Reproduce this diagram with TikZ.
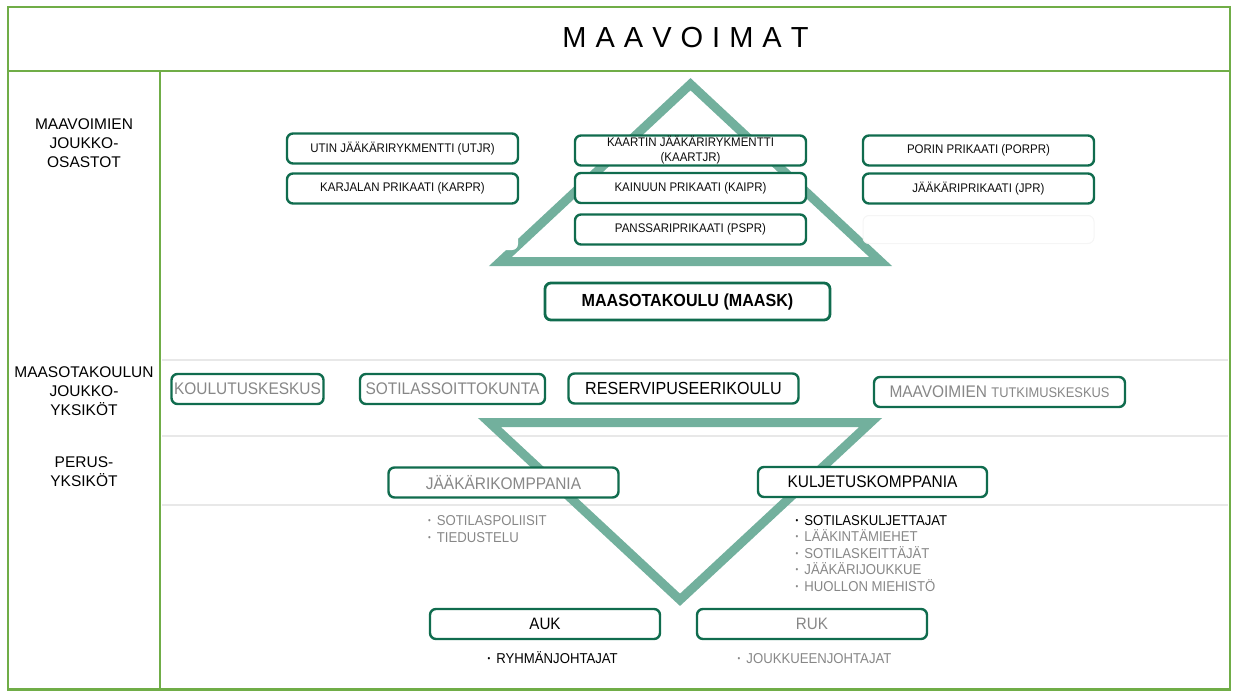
\documentclass[tikz,border=0pt]{standalone}
\usepackage{fontspec}
\setmainfont{Liberation Sans}
\newfontfamily\nf[FakeStretch=0.92]{Liberation Sans}
\definecolor{framegreen}{RGB}{112,173,71}
\definecolor{boxgreen}{RGB}{16,108,78}
\definecolor{trigreen}{RGB}{114,176,157}
\definecolor{txtgray}{RGB}{135,135,135}
\definecolor{sepgray}{RGB}{232,232,232}
\newcommand{\fs}[1]{\fontsize{#1}{#1}\selectfont}
\newcommand{\bul}{{\fontsize{8.5}{8.5}\selectfont\raisebox{2pt}{•}}\hspace{6pt}}
\begin{document}
\begin{tikzpicture}[x=1pt,y=-1pt,
  framel/.style={draw=framegreen,line width=2.8pt},
  sepl/.style={draw=sepgray,line width=2pt},
  tri/.style={draw=trigreen,line width=9pt,line join=miter},
  ubox/.style={draw=boxgreen,line width=2.4pt,rounded corners=6pt,fill=white,
    inner sep=0pt,minimum height=30pt,align=center},
  ghost/.style={draw=none,fill=white,rounded corners=6pt,inner sep=0pt,minimum height=28pt,minimum width=231pt},
  toptxt/.style={font=\nf\fs{12.5},text=black!95},
  lbl/.style={font=\fs{15.5},align=center,text=black},
  item/.style={anchor=base west,inner sep=0pt,font=\nf\fs{14.3}},
]
\useasboundingbox (0,0) rectangle (1235,691);

% frame
\draw[framel] (8,7) rectangle (1230,689.5);
\draw[framel] (8,71) -- (1230,71);
\draw[framel] (160,71) -- (160,689.5);

% separators
\draw[sepl] (162,359.5) -- (1228,359.5);
\draw[sepl] (162,435.5) -- (1228,435.5);
\draw[sepl] (162,504.5) -- (1228,504.5);

% title
\node[font=\fs{29},text=black] (title) at (685.5,37.5)
  {M\hspace{9pt}A\hspace{9pt}A\hspace{9pt}V\hspace{9pt}O\hspace{9pt}I\hspace{9pt}M\hspace{9pt}A\hspace{9pt}T};

% left labels
\node[lbl] (l1) at (84,143) {MAAVOIMIEN\\[3.5pt]JOUKKO-\\[3.5pt]OSASTOT};
\node[lbl] (l2) at (84,391) {MAASOTAKOULUN\\[3.5pt]JOUKKO-\\[3.5pt]YKSIKÖT};
\node[lbl] (l3) at (84,471.5) {PERUS-\\[3.5pt]YKSIKÖT};

% triangles
\draw[tri] (500.4,261.5) -- (880.6,261.5) -- (690.5,84.2) -- cycle;
\draw[tri] (489.4,422.5) -- (870.6,422.5) -- (680,599.8) -- cycle;

% ghost boxes
\node[ghost] (g1) at (402.5,236) {};
\node[ghost,draw=black!4,line width=1pt] (g2) at (978.5,229.5) {};

% top row
\node[ubox,toptxt,minimum width=231pt] (utjr) at (402.5,148.5) {UTIN JÄÄKÄRIRYKMENTTI (UTJR)};
\node[ubox,toptxt,minimum width=231pt] (karpr) at (402.5,188.5) {KARJALAN PRIKAATI (KARPR)};
\node[ubox,toptxt,minimum width=231pt,font=\nf\fontsize{12.5}{15}\selectfont] (kaartjr) at (690.5,150.5) {KAARTIN JÄÄKÄRIRYKMENTTI\\(KAARTJR)};
\node[ubox,toptxt,minimum width=231pt] (kaipr) at (690.5,188) {KAINUUN PRIKAATI (KAIPR)};
\node[ubox,toptxt,minimum width=231pt] (pspr) at (690.5,229.5) {PANSSARIPRIKAATI (PSPR)};
\node[ubox,toptxt,minimum width=231pt] (porpr) at (978.5,150.5) {PORIN PRIKAATI (PORPR)};
\node[ubox,toptxt,minimum width=231pt] (jpr) at (978.5,188.5) {JÄÄKÄRIPRIKAATI (JPR)};

\node[ubox,line width=2.8pt,minimum width=285pt,minimum height=37pt,font=\nf\bfseries\fs{17.5}] (maask) at (687.5,301.5) {MAASOTAKOULU (MAASK)};

% row 2
\node[ubox,minimum width=152pt,font=\nf\fs{16.8},text=txtgray] (kk) at (247.5,389) {KOULUTUSKESKUS};
\node[ubox,minimum width=185pt,font=\nf\fs{16.8},text=txtgray] (sk) at (452.5,389) {SOTILASSOITTOKUNTA};
\node[ubox,minimum width=230pt,font=\nf\fs{17.5},text=black] (rpk) at (683.5,388.5) {RESERVIPUSEERIKOULU};
\node[ubox,minimum width=251pt,font=\nf\fs{16.8},text=txtgray] (mtk) at (999.5,392) {MAAVOIMIEN {\fs{14}TUTKIMUSKESKUS}};

% row 3
\node[ubox,minimum width=230pt,font=\nf\fs{16.8},text=txtgray] (jk) at (503.5,482.5) {JÄÄKÄRIKOMPPANIA};
\node[ubox,minimum width=229pt,font=\nf\fs{16.8},text=black] (kulj) at (872.5,482) {KULJETUSKOMPPANIA};

% row 4
\node[ubox,minimum width=230pt,font=\nf\fs{16.5},text=black] (auk) at (545,624) {AUK};
\node[ubox,minimum width=230pt,font=\nf\fs{16.5},text=txtgray] (ruk) at (812,624) {RUK};

% lists
\node[item,text=txtgray] (i1) at (428,525) {\bul SOTILASPOLIISIT};
\node[item,text=txtgray] (i2) at (428,542) {\bul TIEDUSTELU};

\node[item,text=black] (k1) at (795.5,525) {\bul SOTILASKULJETTAJAT};
\node[item,text=txtgray] (k2) at (795.5,541.5) {\bul LÄÄKINTÄMIEHET};
\node[item,text=txtgray] (k3) at (795.5,558) {\bul SOTILASKEITTÄJÄT};
\node[item,text=txtgray] (k4) at (795.5,574.5) {\bul JÄÄKÄRIJOUKKUE};
\node[item,text=txtgray] (k5) at (795.5,591) {\bul HUOLLON MIEHISTÖ};

\node[item,text=black] (a1) at (487.5,663) {\bul RYHMÄNJOHTAJAT};
\node[item,text=txtgray] (r1) at (737.5,663) {\bul JOUKKUEENJOHTAJAT};
\end{tikzpicture}
\end{document}
